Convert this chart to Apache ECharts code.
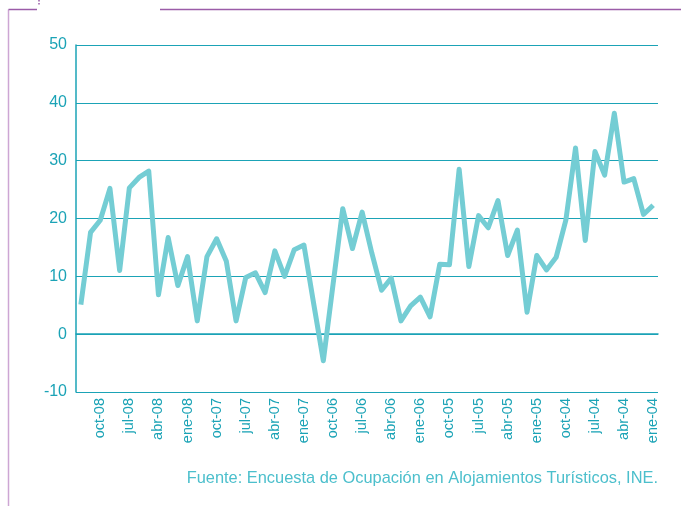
<!DOCTYPE html>
<html>
<head>
<meta charset="utf-8">
<script src="https://cdn.jsdelivr.net/npm/echarts@6/dist/echarts.min.js"></script>
<style>
  html, body { margin: 0; padding: 0; background: #fff; }
  #chart { width: 681px; height: 506px; }
</style>
</head>
<body>
<div id="chart"></div>
<script>
// months, newest first (dic-08 ... ene-04)
var months = [
  'dic-08', 'nov-08', 'oct-08', 'sep-08', 'ago-08', 'jul-08', 'jun-08', 'may-08', 'abr-08', 'mar-08', 'feb-08', 'ene-08',
  'dic-07', 'nov-07', 'oct-07', 'sep-07', 'ago-07', 'jul-07', 'jun-07', 'may-07', 'abr-07', 'mar-07', 'feb-07', 'ene-07',
  'dic-06', 'nov-06', 'oct-06', 'sep-06', 'ago-06', 'jul-06', 'jun-06', 'may-06', 'abr-06', 'mar-06', 'feb-06', 'ene-06',
  'dic-05', 'nov-05', 'oct-05', 'sep-05', 'ago-05', 'jul-05', 'jun-05', 'may-05', 'abr-05', 'mar-05', 'feb-05', 'ene-05',
  'dic-04', 'nov-04', 'oct-04', 'sep-04', 'ago-04', 'jul-04', 'jun-04', 'may-04', 'abr-04', 'mar-04', 'feb-04', 'ene-04'
]

// tasa de variación (%)
var values = [
  5.1, 17.6, 19.7, 25.2, 11.0, 25.3, 27.1, 28.2, 6.8, 16.7, 8.4, 13.4,
  2.3, 13.4, 16.5, 12.6, 2.3, 9.8, 10.6, 7.2, 14.4, 10.0, 14.6, 15.4,
  5.3, -4.6, 8.6, 21.7, 14.8, 21.1, 14.0, 7.6, 9.7, 2.3, 4.9, 6.4,
  3.0, 12.1, 12.0, 28.5, 11.7, 20.5, 18.4, 23.1, 13.6, 18.0, 3.8, 13.6,
  11.1, 13.3, 19.7, 32.2, 16.2, 31.6, 27.5, 38.2, 26.3, 26.9, 20.7, 22.3
]

// only these months carry a label
var shownLabels = ['oct', 'jul', 'abr', 'ene']

var yMin = -10
var yMax = 50
var yStep = 10

var source = 'Fuente: Encuesta de Ocupación en Alojamientos Turísticos, INE.'

var teal = '#1ba3b6'
var lineColor = '#74cdd4'
var purple = '#9b5ca8'

var chart = echarts.init(document.getElementById('chart'), null, { renderer: 'canvas' })

chart.setOption({
  animation: false,
  grid: {
    left: 76,
    right: 23,
    top: 45,
    bottom: 114
  },
  xAxis: {
    type: 'category',
    data: months,
    boundaryGap: true,
    axisLine: { lineStyle: { color: teal, width: 1.5 } },
    axisTick: { show: false },
    axisLabel: {
      interval: function (index, value) {
        return shownLabels.indexOf(value.slice(0, 3)) !== -1
      },
      rotate: 90,
      margin: 6,
      padding: [0, 0, 16, 0],
      color: teal,
      fontSize: 14.5,
      fontFamily: 'Liberation Sans'
    },
    splitLine: { show: false }
  },
  yAxis: {
    type: 'value',
    min: yMin,
    max: yMax,
    interval: yStep,
    axisLine: { show: true, lineStyle: { color: teal, width: 1.5 } },
    axisTick: { show: false },
    axisLabel: {
      color: teal,
      fontSize: 16,
      margin: 9,
      fontFamily: 'Liberation Sans'
    },
    splitLine: { lineStyle: { color: teal, width: 1.2 } }
  },
  series: [{
    type: 'line',
    data: values,
    symbol: 'none',
    lineStyle: { color: lineColor, width: 5, join: 'round' }
  }],
  graphic: [
    {
      type: 'line',
      shape: { x1: 8.5, y1: 9.5, x2: 8.5, y2: 506 },
      style: { stroke: '#cda6d4', lineWidth: 1.5 }
    },
    {
      type: 'line',
      shape: { x1: 8.5, y1: 9.5, x2: 37, y2: 9.5 },
      style: { stroke: purple, lineWidth: 1.5 }
    },
    {
      type: 'line',
      shape: { x1: 39, y1: 0, x2: 39, y2: 6 },
      style: { stroke: purple, lineWidth: 1.5, lineDash: [1.5, 1.5] }
    },
    {
      type: 'line',
      shape: { x1: 160, y1: 9.5, x2: 681, y2: 9.5 },
      style: { stroke: purple, lineWidth: 1.5 }
    },
    {
      type: 'text',
      right: 23,
      top: 470,
      style: {
        text: source,
        fill: '#4cbfcc',
        font: '16.4px "Liberation Sans"'
      }
    }
  ]
})
</script>
</body>
</html>
